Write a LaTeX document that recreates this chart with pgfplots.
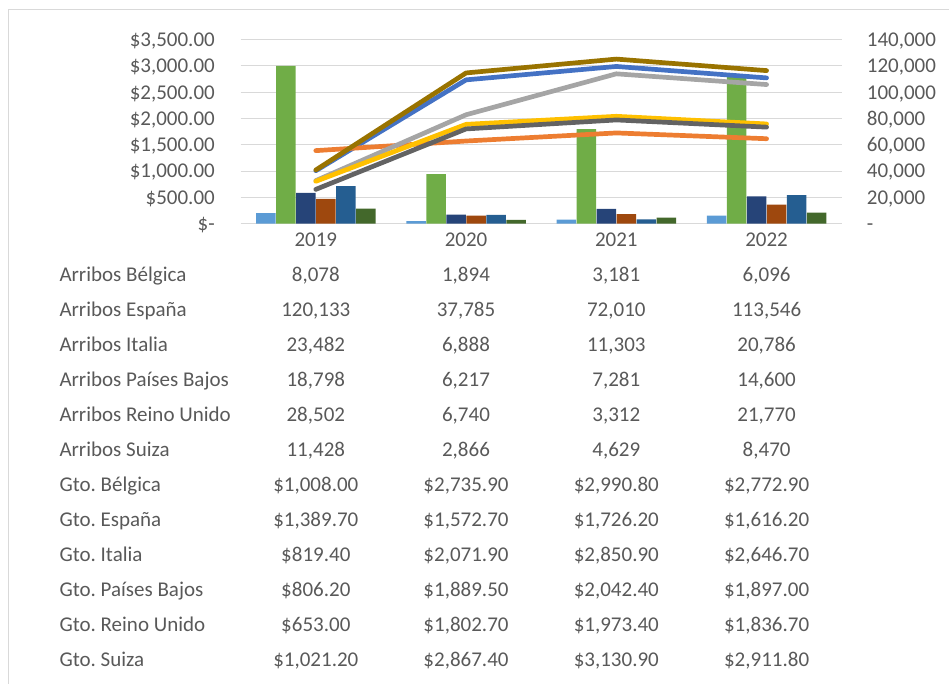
\documentclass[border=0pt]{standalone}
\usepackage{pgfplots}
\pgfplotsset{compat=1.18}
\usepackage{fontspec}
\setmainfont{Carlito}
\frenchspacing
\definecolor{txt}{HTML}{595959}
\definecolor{gridc}{HTML}{D9D9D9}
\definecolor{aBel}{HTML}{5B9BD5}
\definecolor{aEsp}{HTML}{70AD47}
\definecolor{aIta}{HTML}{264478}
\definecolor{aPB}{HTML}{9E480E}
\definecolor{aRU}{HTML}{255E91}
\definecolor{aSui}{HTML}{43682B}
\definecolor{gBel}{HTML}{4472C4}
\definecolor{gEsp}{HTML}{ED7D31}
\definecolor{gIta}{HTML}{A5A5A5}
\definecolor{gPB}{HTML}{FFC000}
\definecolor{gRU}{HTML}{636363}
\definecolor{gSui}{HTML}{997300}
\newcommand\fs{\fontsize{21}{25}\selectfont}
\newcommand\trow[6]{%
  \node[anchor=base west] at (59.3pt,{(402.3-35*#1)*1pt}) {#2};
  \node[anchor=base] at (315.8pt,{(402.3-35*#1)*1pt}) {#3};
  \node[anchor=base] at (466pt,{(402.3-35*#1)*1pt}) {#4};
  \node[anchor=base] at (616.3pt,{(402.3-35*#1)*1pt}) {#5};
  \node[anchor=base] at (766.6pt,{(402.3-35*#1)*1pt}) {#6};
}
\begin{document}
\begin{tikzpicture}
\useasboundingbox (0pt,0pt) rectangle (949pt,684pt);
\draw[gridc, line width=1pt] (8.3pt,-2pt) -- (8.3pt,674pt) -- (952pt,674pt);
\begin{axis}[
  at={(240.7pt,460.3pt)}, anchor=south west,
  scale only axis, width=601pt, height=184pt,
  xmin=-0.5, xmax=3.5, ymin=0, ymax=140000,
  scaled y ticks=false,
  axis line style={draw=none},
  ymajorgrids, grid style={gridc, line width=1pt},
  xtick={0,1,2,3}, xticklabels={2019,2020,2021,2022},
  ytick={0,20000,40000,60000,80000,100000,120000,140000},
  yticklabels={-,{20,000},{40,000},{60,000},{80,000},{100,000},{120,000},{140,000}},
  yticklabel pos=right,
  major tick length=0pt,
  tick style={draw=none},
  tick label style={font=\fs, text=txt},
  xticklabel style={anchor=base, yshift=-23pt, inner sep=0pt},
  yticklabel style={anchor=base west, inner sep=0pt, xshift=25pt, yshift=-6.8pt},
  ybar=0.4pt, bar width=19.6pt,
  clip=false,
]
\addplot[fill=aBel, draw=none] coordinates {(0,8078) (1,1894) (2,3181) (3,6096)};
\addplot[fill=aEsp, draw=none] coordinates {(0,120133) (1,37785) (2,72010) (3,113546)};
\addplot[fill=aIta, draw=none] coordinates {(0,23482) (1,6888) (2,11303) (3,20786)};
\addplot[fill=aPB, draw=none] coordinates {(0,18798) (1,6217) (2,7281) (3,14600)};
\addplot[fill=aRU, draw=none] coordinates {(0,28502) (1,6740) (2,3312) (3,21770)};
\addplot[fill=aSui, draw=none] coordinates {(0,11428) (1,2866) (2,4629) (3,8470)};
\end{axis}
\begin{axis}[
  at={(240.7pt,460.3pt)}, anchor=south west,
  scale only axis, width=601pt, height=184pt,
  xmin=-0.5, xmax=3.5, ymin=0, ymax=3500,
  scaled y ticks=false,
  axis line style={draw=none},
  xtick=\empty,
  ytick={0,500,1000,1500,2000,2500,3000,3500},
  yticklabels={{\$-\hspace{9.3pt}},{\$500.00},{\$1,000.00},{\$1,500.00},{\$2,000.00},{\$2,500.00},{\$3,000.00},{\$3,500.00}},
  major tick length=0pt,
  tick style={draw=none},
  tick label style={font=\fs, text=txt},
  yticklabel style={anchor=base east, inner sep=0pt, xshift=-25.7pt, yshift=-6.8pt},
  clip=false,
  every axis plot/.append style={line width=4.7pt, line cap=round, line join=round, mark=none},
]
\addplot[gBel] coordinates {(0,1008.0) (1,2735.9) (2,2990.8) (3,2772.9)};
\addplot[gEsp] coordinates {(0,1389.7) (1,1572.7) (2,1726.2) (3,1616.2)};
\addplot[gIta] coordinates {(0,819.4) (1,2071.9) (2,2850.9) (3,2646.7)};
\addplot[gPB] coordinates {(0,806.2) (1,1889.5) (2,2042.4) (3,1897.0)};
\addplot[gRU] coordinates {(0,653.0) (1,1802.7) (2,1973.4) (3,1836.7)};
\addplot[gSui] coordinates {(0,1021.2) (1,2867.4) (2,3130.9) (3,2911.8)};
\end{axis}
\begin{scope}[every node/.style={inner sep=0pt, text=txt, font=\fs}]
\trow{0}{Arribos Bélgica}{8,078}{1,894}{3,181}{6,096}
\trow{1}{Arribos España}{120,133}{37,785}{72,010}{113,546}
\trow{2}{Arribos Italia}{23,482}{6,888}{11,303}{20,786}
\trow{3}{Arribos Países Bajos}{18,798}{6,217}{7,281}{14,600}
\trow{4}{Arribos Reino Unido}{28,502}{6,740}{3,312}{21,770}
\trow{5}{Arribos Suiza}{11,428}{2,866}{4,629}{8,470}
\trow{6}{Gto. Bélgica}{\$1,008.00}{\$2,735.90}{\$2,990.80}{\$2,772.90}
\trow{7}{Gto. España}{\$1,389.70}{\$1,572.70}{\$1,726.20}{\$1,616.20}
\trow{8}{Gto. Italia}{\$819.40}{\$2,071.90}{\$2,850.90}{\$2,646.70}
\trow{9}{Gto. Países Bajos}{\$806.20}{\$1,889.50}{\$2,042.40}{\$1,897.00}
\trow{10}{Gto. Reino Unido}{\$653.00}{\$1,802.70}{\$1,973.40}{\$1,836.70}
\trow{11}{Gto. Suiza}{\$1,021.20}{\$2,867.40}{\$3,130.90}{\$2,911.80}
\end{scope}
\end{tikzpicture}
\end{document}
